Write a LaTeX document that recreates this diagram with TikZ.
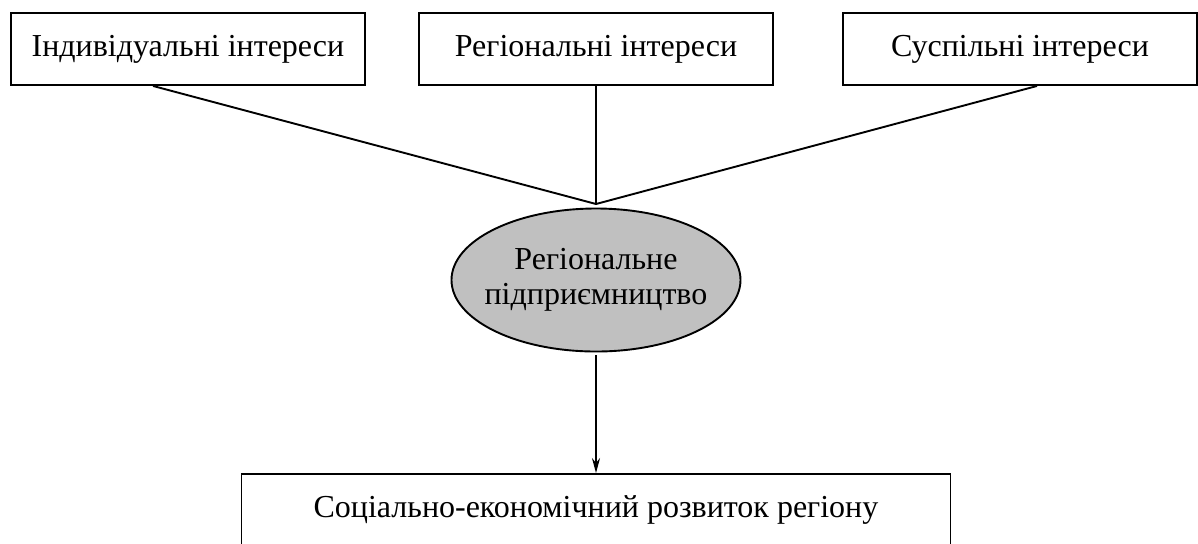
\documentclass[tikz,border=0pt]{standalone}
\usepackage{fontspec}
\setmainfont{Liberation Serif}
\usetikzlibrary{shapes.geometric, arrows.meta}
\definecolor{ovalgray}{RGB}{192,192,192}
\begin{document}
\begin{tikzpicture}[x=0.5pt, y=-0.5pt, line width=0.95pt,
    txt/.style={font=\fontsize{16}{17.5}\selectfont},
    interest/.style={txt, draw, minimum width=177pt, minimum height=36pt, inner sep=0pt},
    oval/.style={txt, ellipse, draw, fill=ovalgray, align=center, minimum width=144.5pt, minimum height=71.5pt, inner xsep=-8pt, inner ysep=0pt},
    outcome/.style={txt, draw, minimum width=354.5pt, minimum height=36pt, inner sep=0pt}]
    \useasboundingbox (0,0) rectangle (1198,543);
    % interests
    \node[interest] (ind) at (188,49) {Індивідуальні інтереси};
    \node[interest] (reg) at (596,49) {Регіональні інтереси};
    \node[interest] (soc) at (1020,49) {Суспільні інтереси};
    % entrepreneurship
    \coordinate (join) at (596,204);
    \node[oval] (ent) at (596,280) {Регіональне\\підприємництво};
    \draw ([xshift=-17.5pt]ind.south) -- (join) -- ([xshift=8.5pt]soc.south);
    \draw (reg.south) -- (join);
    % development
    \node[outcome] (dev) at (596,510) {Соціально-економічний розвиток регіону};
    \draw[-{Stealth[length=7.5pt, width=4pt]}, shorten <=1.5pt] (ent.south) -- (dev.north);
\end{tikzpicture}
\end{document}
